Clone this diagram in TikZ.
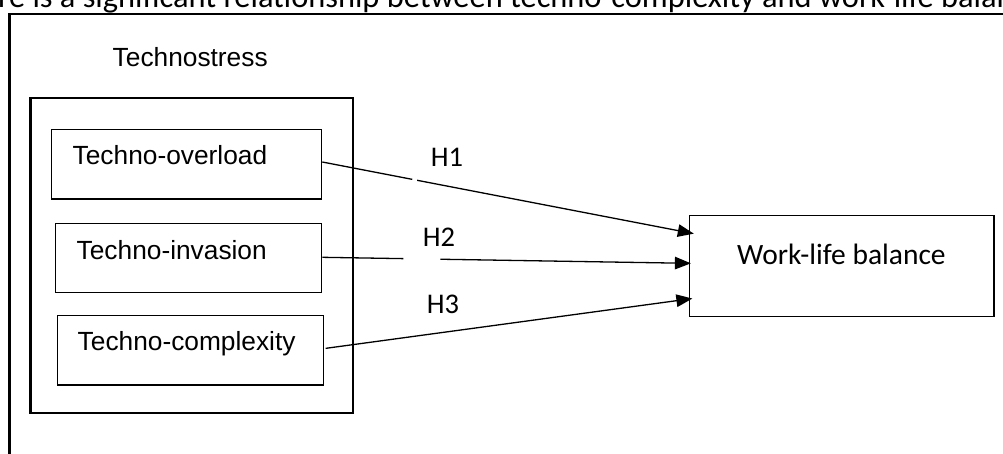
\documentclass[tikz,border=0pt]{standalone}
\usepackage{fontspec}
\newfontfamily\arialf{Liberation Sans}
\newfontfamily\calf{Carlito}
\usetikzlibrary{arrows.meta}
\begin{document}
\begin{tikzpicture}[x=1pt,y=-1pt,
  frame/.style={draw=black, line width=2.4pt},
  grpbox/.style={draw=black, line width=2.3pt, inner sep=0pt},
  box/.style={draw=black, line width=1.2pt, inner sep=0pt},
  txt/.style={inner sep=0pt, anchor=base west},
  arialtxt/.style={txt, font=\arialf\fontsize{26.3}{30}\selectfont},
  caltxt/.style={txt, font=\calf\fontsize{28.5}{33}\selectfont},
  conn/.style={line width=1.3pt, -{Triangle[length=16pt,width=12.5pt]}}
]
\useasboundingbox (0,0) rectangle (1003,453);
\clip (0,0) rectangle (1003,453);

% heading line (cut off by the page)
\node[txt, font=\calf\fontsize{32.4}{37}\selectfont] (head) at (-2,7.5)
  {re is a significant relationship between techno-complexity and work-life balance};

% outer frame
\draw[frame] (9.3,470) -- (9.3,13.8) -- (1020,13.8);

% Technostress group
\node[arialtxt] (tslabel) at (112.5,66) {Technostress};
\node[grpbox, minimum width=322.3pt, minimum height=315pt] (grp) at (191.65,255.3) {};

% inner boxes
\node[box, minimum width=270.4pt, minimum height=69.5pt] (b1) at (186.5,164.25) {};
\node[box, minimum width=266.2pt, minimum height=69.4pt] (b2) at (188.6,258) {};
\node[box, minimum width=266pt, minimum height=69.3pt] (b3) at (190.3,350.35) {};
\node[arialtxt] (t1) at (72.5,164) {Techno-overload};
\node[arialtxt] (t2) at (76.5,259.3) {Techno-invasion};
\node[arialtxt] (t3) at (77.5,350.7) {Techno-complexity};

% outcome
\node[box, minimum width=304.5pt, minimum height=101.4pt] (wlb) at (841.75,266) {};
\node[txt, font=\calf\fontsize{29.5}{34}\selectfont] (wlbt) at (737,264) {Work-life balance};

% hypotheses
\draw[conn, dash pattern=on 91.6pt off 5pt on 2000pt, shorten >=-5pt]
  ([yshift=2.25pt]b1.east) -- ([yshift=33.3pt]wlb.west);
\draw[conn, dash pattern=on 81pt off 37pt on 2000pt, shorten >=-2pt]
  ([yshift=0.7pt]b2.east) -- ([yshift=2.7pt]wlb.west);
\draw[conn, shorten >=-3.5pt]
  ([xshift=1.7pt,yshift=2pt]b3.east) -- ([yshift=-33pt]wlb.west);

\node[caltxt] (h1) at (430.7,166) {H1};
\node[caltxt] (h2) at (422.7,246) {H2};
\node[caltxt] (h3) at (426.7,313) {H3};
\end{tikzpicture}
\end{document}
